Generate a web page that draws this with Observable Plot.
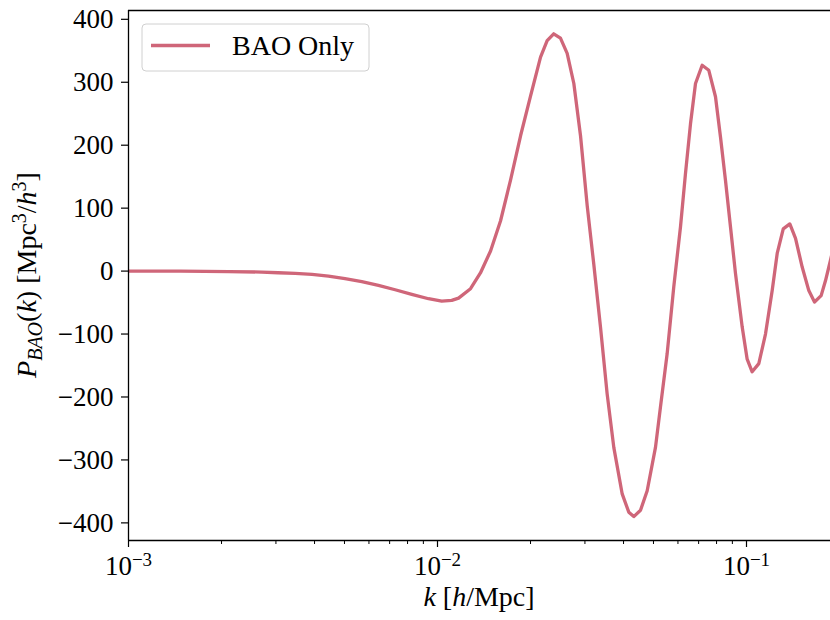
<!DOCTYPE html>
<html>
<head>
<meta charset="utf-8">
<script src="https://cdn.jsdelivr.net/npm/d3@7"></script>
<script src="https://cdn.jsdelivr.net/npm/@observablehq/plot@0.6"></script>
<style>
  html, body { margin: 0; padding: 0; background: white; }
  #chart { position: relative; width: 830px; height: 620px; }
</style>
</head>
<body>
<div id="chart"></div>
<script>
// wavenumber k [h/Mpc] (samples)
const kValues = [
  0.001, 0.001473, 0.00211, 0.002701, 0.00305, 0.003463, 0.003925, 0.004437, 0.00502, 0.005689,
  0.00644, 0.007294, 0.008254, 0.009352, 0.01032, 0.01112, 0.0117, 0.01279, 0.01377, 0.01485,
  0.0160, 0.01724, 0.01857, 0.0200, 0.02155, 0.02264, 0.02377, 0.0250, 0.02628, 0.02762,
  0.02903, 0.03051, 0.03206, 0.03369, 0.0354, 0.0372, 0.0396, 0.0416, 0.04318, 0.04539,
  0.04771, 0.05075, 0.05267, 0.05537, 0.05816, 0.06114, 0.06346, 0.06588, 0.06839, 0.07187,
  0.07551, 0.07937, 0.08238, 0.08551, 0.08876, 0.09213, 0.09685, 0.1005, 0.1043, 0.1096,
  0.1152, 0.1211, 0.1257, 0.1315, 0.1381, 0.1441, 0.1515, 0.1591, 0.1660, 0.1744,
  0.1802, 0.1869, 0.195
];
// P_BAO(k) [Mpc^3/h^3]
const pValues = [
  0, 0, -1, -1.5, -2.6, -3.7, -5.2, -7.9, -12.1, -16.9,
  -22.7, -29.6, -37, -43.9, -47.6, -46.6, -42.9, -28, -3, 32,
  80, 145, 215, 278, 340, 366, 377, 370, 346, 298,
  215, 104, 10, -89, -195, -280, -354, -383, -390, -380,
  -349, -280, -216, -131, -25, 70, 155, 234, 298, 327,
  319, 277, 213, 144, 70, -4, -89, -140, -160, -147,
  -100, -31, 28, 67, 75, 52, 6, -31, -49, -39,
  -15, 17, 55
];
const seriesName = "BAO Only";
const lineColor = "#cf6679";

const xDomain = [0.001, 0.187];
const yDomain = [-428, 414];
const yTicks = [-400, -300, -200, -100, 0, 100, 200, 300, 400];
const xMajorTicks = [0.001, 0.01, 0.1];
const xMinorTicks = [0.002,0.003,0.004,0.005,0.006,0.007,0.008,0.009,
                     0.02,0.03,0.04,0.05,0.06,0.07,0.08,0.09];

const data = kValues.map((k, i) => ({k, P: pValues[i]}));

const FONT = "'Liberation Serif', 'DejaVu Serif', serif";
const minus = v => v < 0 ? "\u2212" + Math.abs(v) : String(v);

const plot = Plot.plot({
  width: 830,
  height: 620,
  marginLeft: 128,
  marginRight: 0,
  marginTop: 10,
  marginBottom: 80,
  style: {fontFamily: FONT, fontSize: "27px", color: "black", background: "white", overflow: "visible"},
  x: {type: "log", domain: xDomain},
  y: {domain: yDomain},
  marks: [
    Plot.line(data, {x: "k", y: "P", stroke: lineColor, strokeWidth: 3.3, clip: true}),
    Plot.ruleX([xDomain[0]], {stroke: "black", strokeWidth: 1.3}),
    Plot.ruleY([yDomain[0], yDomain[1]], {stroke: "black", strokeWidth: 1.3}),
    Plot.axisY({ticks: yTicks, tickSize: 7, tickPadding: 8, tickFormat: minus, label: null, strokeWidth: 1.2}),
    Plot.axisX({ticks: xMajorTicks, tickSize: 7, tickPadding: 8,
      tickFormat: d => "10^" + Math.round(Math.log10(d)), label: null, strokeWidth: 1.2}),
    Plot.axisX({ticks: xMinorTicks, tickSize: 4, tickFormat: () => "", label: null, strokeWidth: 1})
  ]
});

document.getElementById("chart").appendChild(plot);

const svg = d3.select(plot);

// superscript exponents on x tick labels
svg.selectAll("text").each(function() {
  const t = d3.select(this);
  const s = t.text();
  const m = /^10\^(-?\d+)$/.exec(s);
  if (m) {
    t.text("");
    t.append("tspan").text("10");
    const e = +m[1];
    t.append("tspan").attr("dy", "-0.45em").attr("font-size", "19px").text(minus(e));
  }
});

// axis labels
const xs = plot.scale("x"), ys = plot.scale("y");
const xMid = (xs.range[0] + xs.range[1]) / 2;
const yMid = (ys.range[0] + ys.range[1]) / 2;

const xl = svg.append("text")
  .attr("x", xMid).attr("y", 606)
  .attr("text-anchor", "middle")
  .attr("font-family", FONT).attr("font-size", 28).attr("fill", "black");
xl.append("tspan").attr("font-style", "italic").text("k");
xl.append("tspan").text(" [");
xl.append("tspan").attr("font-style", "italic").text("h");
xl.append("tspan").text("/Mpc]");

const yl = svg.append("text")
  .attr("transform", `translate(36,${yMid}) rotate(-90)`)
  .attr("text-anchor", "middle")
  .attr("font-family", FONT).attr("font-size", 28).attr("fill", "black");
yl.append("tspan").attr("font-style", "italic").text("P");
yl.append("tspan").attr("font-style", "italic").attr("font-size", 20).attr("dy", 6).text("BAO");
yl.append("tspan").attr("dy", -6).text("(");
yl.append("tspan").attr("font-style", "italic").text("k");
yl.append("tspan").text(") [Mpc");
yl.append("tspan").attr("font-size", 20).attr("dy", -10).text("3");
yl.append("tspan").attr("dy", 10).text("/");
yl.append("tspan").attr("font-style", "italic").text("h");
yl.append("tspan").attr("font-size", 20).attr("dy", -10).text("3");
yl.append("tspan").attr("dy", 10).text("]");

// legend
const lg = svg.append("g");
lg.append("rect").attr("x", 142).attr("y", 24).attr("width", 227).attr("height", 47)
  .attr("rx", 4).attr("fill", "white").attr("fill-opacity", 0.8)
  .attr("stroke", "#d0d0d0").attr("stroke-width", 1);
lg.append("line").attr("x1", 151).attr("x2", 210).attr("y1", 45.5).attr("y2", 45.5)
  .attr("stroke", lineColor).attr("stroke-width", 3.3);
lg.append("text").attr("x", 232).attr("y", 55).attr("text-anchor", "start")
  .attr("font-family", FONT).attr("font-size", 28).attr("fill", "black").text(seriesName);
</script>
</body>
</html>
